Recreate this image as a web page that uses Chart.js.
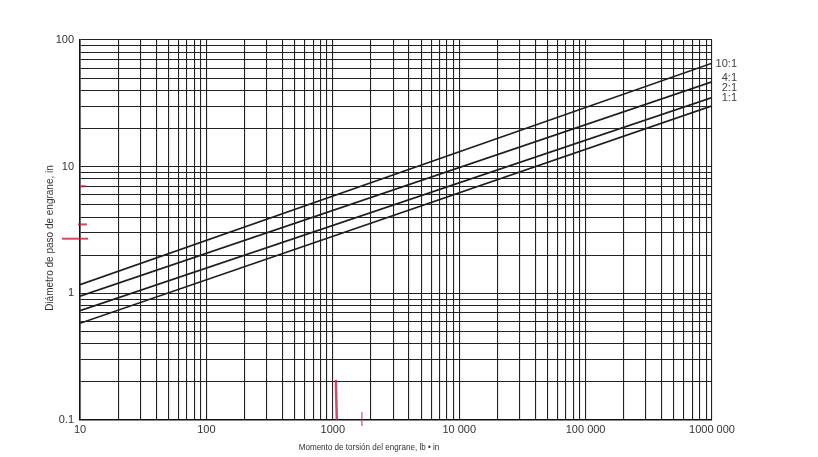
<!DOCTYPE html>
<html>
<head>
    <title>Diámetro de paso vs momento de torsión</title>
    <script src="https://cdn.jsdelivr.net/npm/chart.js"></script>
    <style>
        html, body { margin: 0; padding: 0; background: #fff; }
        #wrap { width: 818px; height: 457px; position: relative; }
    </style>
</head>
<body>
    <div id="wrap"><canvas id="chart"></canvas></div>
    <script>
        // Values (log-log, straight lines)
        const torque = [10, 1000000];
        const ratios = ['10:1', '4:1', '2:1', '1:1'];
        const diam10 = [1.17, 65.6];
        const diam4 = [0.95, 46.7];
        const diam2 = [0.73, 35.1];
        const diam1 = [0.58, 30.2];
        const ratioLabelY = [64.7, 50.2, 41.9, 34.9];

        const xTickLabels = { 10: '10', 100: '100', 1000: '1000', 10000: '10 000', 100000: '100 000', 1000000: '1000 000' };
        const yTickLabels = { 0.1: '0.1', 1: '1', 10: '10', 100: '100' };

        // red pencil marks on the scan, in data units
        const redMarksY = [[7, 80, 86], [3.5, 78, 87], [2.7, 62, 88]];

        function logTicks(from, to) {
            const out = [];
            for (let p = from; p < to; p *= 10) {
                for (let m = 1; m <= 9; m++) out.push({ value: +(m * p).toPrecision(3) });
            }
            out.push({ value: to });
            return out;
        }

        const seriesData = [diam10, diam4, diam2, diam1].map(vals =>
            vals.map((v, i) => ({ x: torque[i], y: v })));

        const extras = {
            id: 'extras',
            afterDraw(chart) {
                const { ctx, scales: { x, y }, chartArea } = chart;
                ctx.save();
                // ratio labels on the right
                ctx.font = '11px "Liberation Sans", Arial, sans-serif';
                ctx.fillStyle = '#444';
                ctx.textAlign = 'right';
                ctx.textBaseline = 'middle';
                ratios.forEach((r, i) => {
                    ctx.fillText(r, chartArea.right + 25, y.getPixelForValue(ratioLabelY[i]));
                });
                // axis titles
                ctx.fillStyle = '#333';
                ctx.textAlign = 'center';
                ctx.save();
                ctx.translate(369, 447);
                ctx.scale(0.85, 1);
                ctx.font = '9.5px "Liberation Sans", Arial, sans-serif';
                ctx.fillText('Momento de torsión del engrane, lb • in', 0, 0);
                ctx.restore();
                ctx.save();
                ctx.translate(50, 238);
                ctx.rotate(-Math.PI / 2);
                ctx.font = '10px "Liberation Sans", Arial, sans-serif';
                ctx.fillText('Diámetro de paso de engrane, in', 0, 0);
                ctx.restore();
                // red pencil marks
                ctx.strokeStyle = 'rgba(200,30,60,0.8)';
                ctx.lineWidth = 2;
                redMarksY.forEach(([v, x0, x1]) => {
                    const py = y.getPixelForValue(v);
                    ctx.beginPath(); ctx.moveTo(x0, py); ctx.lineTo(x1, py); ctx.stroke();
                });
                const px = x.getPixelForValue(1000) + 3;
                ctx.lineWidth = 2.5;
                ctx.beginPath(); ctx.moveTo(px, chartArea.bottom - 40); ctx.lineTo(px + 1, chartArea.bottom); ctx.stroke();
                ctx.lineWidth = 1.2;
                const px2 = x.getPixelForValue(1700);
                ctx.beginPath(); ctx.moveTo(px2, chartArea.bottom - 8); ctx.lineTo(px2, chartArea.bottom + 6); ctx.stroke();
                ctx.restore();
            }
        };

        new Chart(document.getElementById('chart'), {
            type: 'line',
            data: {
                datasets: seriesData.map((d, i) => ({
                    label: ratios[i],
                    data: d,
                    borderColor: '#1e1e1e',
                    borderWidth: 1.7,
                    pointRadius: 0,
                    fill: false,
                    tension: 0
                }))
            },
            options: {
                responsive: true,
                maintainAspectRatio: false,
                animation: false,
                layout: { padding: { top: 40, right: 106, bottom: 0, left: 0 } },
                plugins: { legend: { display: false }, tooltip: { enabled: false } },
                scales: {
                    x: {
                        type: 'logarithmic',
                        min: 10,
                        max: 1000000,
                        afterBuildTicks: s => { s.ticks = logTicks(10, 1000000); },
                        afterFit: s => { s.height = 37; },
                        grid: { color: '#222', lineWidth: 1.1, drawTicks: false },
                        border: { color: '#111', width: 1.6 },
                        ticks: {
                            autoSkip: false,
                            maxRotation: 0,
                            padding: 3,
                            color: '#333',
                            font: { family: '"Liberation Sans", Arial, sans-serif', size: 11 },
                            callback: v => xTickLabels[v] || ''
                        }
                    },
                    y: {
                        type: 'logarithmic',
                        min: 0.1,
                        max: 100,
                        afterBuildTicks: s => { s.ticks = logTicks(0.1, 100); },
                        afterFit: s => { s.width = 80; },
                        grid: { color: '#222', lineWidth: 1.1, drawTicks: false },
                        border: { color: '#111', width: 1.6 },
                        ticks: {
                            autoSkip: false,
                            padding: 6,
                            color: '#333',
                            font: { family: '"Liberation Sans", Arial, sans-serif', size: 11 },
                            callback: v => yTickLabels[v] || ''
                        }
                    }
                }
            },
            plugins: [extras]
        });
    </script>
</body>
</html>
